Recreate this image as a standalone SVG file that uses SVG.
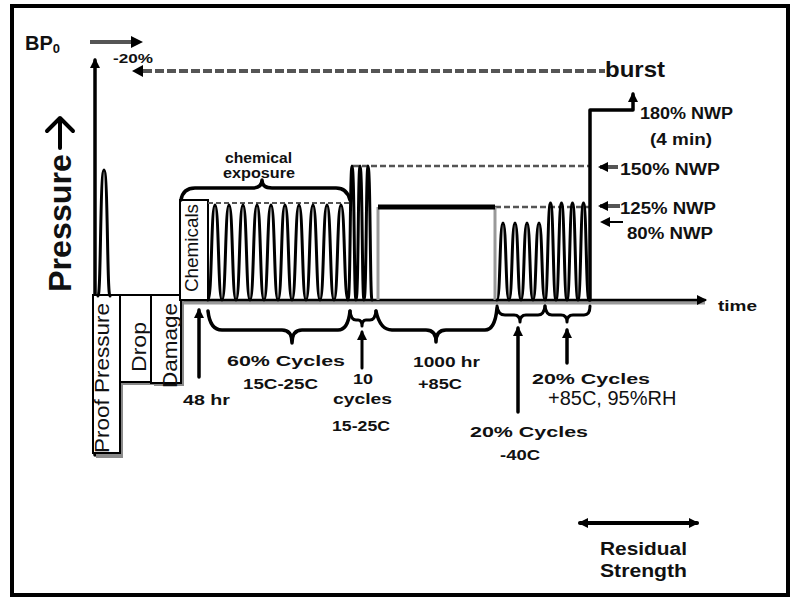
<svg xmlns="http://www.w3.org/2000/svg" width="800" height="601" viewBox="0 0 800 601">
<style>
.t{font-family:"Liberation Sans",Arial,sans-serif;font-weight:bold;fill:#111;}
.r{font-family:"Liberation Sans",Arial,sans-serif;font-weight:normal;fill:#111;}
.ln{fill:none;stroke:#000;stroke-linecap:round;stroke-linejoin:round;}
.box{fill:#fff;stroke:#000;stroke-width:2;}
.sh{fill:#8a8a8a;}
</style>
<defs>
<marker id="ah" viewBox="0 0 10 10" refX="8" refY="5" markerWidth="10" markerHeight="10" markerUnits="userSpaceOnUse" orient="auto">
<path d="M0,0 L10,5 L0,10 z" fill="#000"/>
</marker>
<marker id="ahs" viewBox="0 0 10 10" refX="8" refY="5" markerWidth="10" markerHeight="10" markerUnits="userSpaceOnUse" orient="auto-start-reverse">
<path d="M0,0 L10,5 L0,10 z" fill="#000"/>
</marker>
</defs>
<rect x="0" y="0" width="800" height="601" fill="#fff"/>
<rect x="12" y="6" width="776" height="589" fill="none" stroke="#000" stroke-width="4"/>

<g id="axes">
<line class="ln" x1="95" y1="455" x2="95" y2="60" stroke-width="3.5" marker-end="url(#ah)"/>
<line x1="181" y1="302" x2="705" y2="302" stroke="#999" stroke-width="5"/>
<line class="ln" x1="181" y1="300" x2="705" y2="300" stroke-width="2.5" marker-end="url(#ah)"/>
<text class="t" x="718" y="311" font-size="14" textLength="39" lengthAdjust="spacingAndGlyphs">time</text>
</g>

<g id="pressure-label">
<text class="t" x="0" y="0" font-size="31" transform="translate(71,292) rotate(-90)" textLength="138" lengthAdjust="spacingAndGlyphs">Pressure</text>
<path class="ln" d="M60,148 L60,118 M47,131 L60,118 L73,131" stroke-width="4"/>
</g>

<g id="bp0">
<text class="t" x="25" y="50" font-size="20">BP<tspan font-size="13" dy="3">0</tspan></text>
<line x1="90" y1="42" x2="133" y2="42" stroke="#555" stroke-width="4"/>
<path d="M131,36 L143,42 L131,48 z" fill="#000"/>
<text class="t" x="113" y="63" font-size="12" textLength="40" lengthAdjust="spacingAndGlyphs">-20%</text>
</g>

<g id="burst-line">
<line x1="143" y1="71" x2="605" y2="71" stroke="#555" stroke-width="4" stroke-dasharray="9,3"/>
<path d="M143,65 L132,71 L143,77 z" fill="#000"/>
<text class="t" x="605" y="77" font-size="22" textLength="60" lengthAdjust="spacingAndGlyphs">burst</text>
</g>

<g id="proof-pressure">
<rect class="sh" x="96" y="298" width="27" height="160"/>
<rect class="box" x="93" y="295" width="27" height="158"/>
<text class="r" x="0" y="0" font-size="21" transform="translate(109,453) rotate(-90)" textLength="150" lengthAdjust="spacingAndGlyphs">Proof Pressure</text>
<path class="ln" d="M98,296 C101,296 100,170 104,170 C108,170 107,296 110,296" stroke-width="3"/>
</g>

<g id="drop">
<rect class="sh" x="123" y="298" width="31" height="87"/>
<rect class="box" x="120" y="295" width="31" height="87"/>
<text class="r" x="0" y="0" font-size="21" transform="translate(146,372) rotate(-90)" textLength="50" lengthAdjust="spacingAndGlyphs">Drop</text>
</g>

<g id="damage">
<rect class="sh" x="154" y="298" width="30" height="88"/>
<rect class="box" x="151" y="295" width="30" height="88"/>
<text class="r" x="0" y="0" font-size="21" transform="translate(177,388) rotate(-90)" textLength="85" lengthAdjust="spacingAndGlyphs">Damage</text>
</g>

<g id="chemicals">
<rect class="box" x="180" y="200" width="28" height="100"/>
<text class="r" x="0" y="0" font-size="19" transform="translate(198,292) rotate(-90)" textLength="88" lengthAdjust="spacingAndGlyphs">Chemicals</text>
</g>

<g id="waveform">
<line x1="208" y1="203" x2="350" y2="203" stroke="#555" stroke-width="2" stroke-dasharray="5,3"/>
<line x1="353" y1="166" x2="590" y2="166" stroke="#555" stroke-width="2.5" stroke-dasharray="6,3"/>
<line x1="495" y1="207" x2="590" y2="207" stroke="#555" stroke-width="2.5" stroke-dasharray="6,3"/>
<line x1="378" y1="207" x2="378" y2="300" stroke="#999" stroke-width="3"/>
<line x1="495" y1="207" x2="495" y2="300" stroke="#999" stroke-width="3"/>
<line x1="378" y1="207" x2="495" y2="207" stroke="#000" stroke-width="5"/>
<path class="ln" stroke-width="3" d="M208,300
c4,0 3,-95 7,-95 c4,0 3,95 7,95 c4,0 3,-95 7,-95 c4,0 3,95 7,95
c4,0 3,-95 7,-95 c4,0 3,95 7,95 c4,0 3,-95 7,-95 c4,0 3,95 7,95
c4,0 3,-95 7,-95 c4,0 3,95 7,95 c4,0 3,-95 7,-95 c4,0 3,95 7,95
c4,0 3,-95 7,-95 c4,0 3,95 7,95 c4,0 3,-95 7,-95 c4,0 3,95 7,95
c4,0 3,-95 7,-95 c4,0 3,95 7,95 c4,0 3,-95 7,-95 c4,0 3,95 7,95
c2.5,0 2,-134 4,-134 c2.5,0 2,134 4,134 c2.5,0 2,-134 4,-134 c2.5,0 2,134 4,134
c2.5,0 2,-134 4,-134 c2.5,0 2,134 4,134"/>
<path class="ln" stroke-width="3" d="M497,300
c3.5,0 2.5,-77 6,-77 c3.5,0 2.5,77 6,77 c3.5,0 2.5,-77 6,-77 c3.5,0 2.5,77 6,77
c3.5,0 2.5,-77 6,-77 c3.5,0 2.5,77 6,77 c3.5,0 2.5,-77 6,-77 c3.5,0 2.5,77 6,77
c3,0 2.5,-97 5.5,-97 c3,0 2.5,97 5.5,97 c3,0 2.5,-97 5.5,-97 c3,0 2.5,97 5.5,97
c3,0 2.5,-97 5.5,-97 c3,0 2.5,97 5.5,97 c3,0 2.5,-97 5.5,-97 c3,0 2.5,97 5.5,97"/>
</g>

<g id="connectors">
<path class="ln" stroke-width="3.5" d="M590,300 L590,110 L633,110 L633,94" marker-end="url(#ah)"/>
<line x1="618" y1="167" x2="600" y2="167" stroke="#555" stroke-width="4" marker-end="url(#ah)"/>
<line x1="620" y1="206" x2="600" y2="206" stroke="#555" stroke-width="4" marker-end="url(#ah)"/>
<line x1="623" y1="222" x2="602" y2="222" stroke="#000" stroke-width="2" marker-end="url(#ah)"/>
<path class="ln" stroke-width="3.5" d="M181,200 Q183,188 195,188 L252,188 Q262,188 262,180 Q262,188 272,188 L336,188 Q347,188 350,200"/>
<line class="ln" x1="199" y1="377" x2="199" y2="310" stroke-width="3.5" marker-end="url(#ah)"/>
<path class="ln" stroke-width="3.5" d="M208,311 Q210,330 222,330 L282,330 Q292,330 292,343 Q292,330 302,330 L338,330 Q348,330 350,311"/>
<path class="ln" stroke-width="3" d="M350,311 Q351,320 356,320 L358,320 Q362,320 362,326 Q362,320 366,320 L370,320 Q375,320 376,311"/>
<line class="ln" x1="362" y1="368" x2="362" y2="332" stroke-width="3" marker-end="url(#ah)"/>
<path class="ln" stroke-width="3.5" d="M376,311 Q380,330 392,330 L426,330 Q436,330 436,342 Q436,330 446,330 L485,330 Q495,330 497,308"/>
<path class="ln" stroke-width="3" d="M497,306 Q498,315 505,315 L514,315 Q520,315 520,322 Q520,315 526,315 L538,315 Q544,315 545,306"/>
<line class="ln" x1="518" y1="412" x2="518" y2="328" stroke-width="3.5" marker-end="url(#ah)"/>
<path class="ln" stroke-width="3" d="M545,306 Q546,315 552,315 L561,315 Q567,315 567,322 Q567,315 573,315 L584,315 Q590,315 590,306"/>
<line class="ln" x1="567" y1="363" x2="567" y2="330" stroke-width="3.5" marker-end="url(#ah)"/>
<line class="ln" x1="580" y1="523" x2="697" y2="523" stroke-width="4" marker-start="url(#ahs)" marker-end="url(#ah)"/>
</g>

<g id="labels">
<text class="t" x="640" y="119" font-size="16" textLength="93" lengthAdjust="spacingAndGlyphs">180% NWP</text>
<text class="t" x="650" y="145" font-size="16" textLength="62" lengthAdjust="spacingAndGlyphs">(4 min)</text>
<text class="t" x="620" y="175" font-size="16" textLength="100" lengthAdjust="spacingAndGlyphs">150% NWP</text>
<text class="t" x="620" y="214" font-size="16" textLength="96" lengthAdjust="spacingAndGlyphs">125% NWP</text>
<text class="t" x="627" y="239" font-size="16" textLength="86" lengthAdjust="spacingAndGlyphs">80% NWP</text>
<text class="t" x="225" y="163" font-size="14" textLength="67" lengthAdjust="spacingAndGlyphs">chemical</text>
<text class="t" x="223" y="178" font-size="14" textLength="72" lengthAdjust="spacingAndGlyphs">exposure</text>
<text class="t" x="183" y="405" font-size="15" textLength="47" lengthAdjust="spacingAndGlyphs">48 hr</text>
<text class="t" x="227" y="366" font-size="15" textLength="118" lengthAdjust="spacingAndGlyphs">60% Cycles</text>
<text class="t" x="243" y="389" font-size="15" textLength="75" lengthAdjust="spacingAndGlyphs">15C-25C</text>
<text class="t" x="353" y="384" font-size="15" textLength="20" lengthAdjust="spacingAndGlyphs">10</text>
<text class="t" x="333" y="404" font-size="15" textLength="59" lengthAdjust="spacingAndGlyphs">cycles</text>
<text class="t" x="332" y="431" font-size="15" textLength="58" lengthAdjust="spacingAndGlyphs">15-25C</text>
<text class="t" x="413" y="367" font-size="15" textLength="67" lengthAdjust="spacingAndGlyphs">1000 hr</text>
<text class="t" x="418" y="389" font-size="15" textLength="44" lengthAdjust="spacingAndGlyphs">+85C</text>
<text class="t" x="470" y="437" font-size="15" textLength="118" lengthAdjust="spacingAndGlyphs">20% Cycles</text>
<text class="t" x="500" y="460" font-size="15" textLength="40" lengthAdjust="spacingAndGlyphs">-40C</text>
<text class="t" x="532" y="384" font-size="15" textLength="118" lengthAdjust="spacingAndGlyphs">20% Cycles</text>
<text class="r" x="548" y="405" font-size="20">+85C, 95%RH</text>
<text class="t" x="600" y="555" font-size="18" textLength="87" lengthAdjust="spacingAndGlyphs">Residual</text>
<text class="t" x="600" y="577" font-size="18" textLength="87" lengthAdjust="spacingAndGlyphs">Strength</text>
</g>
</svg>
